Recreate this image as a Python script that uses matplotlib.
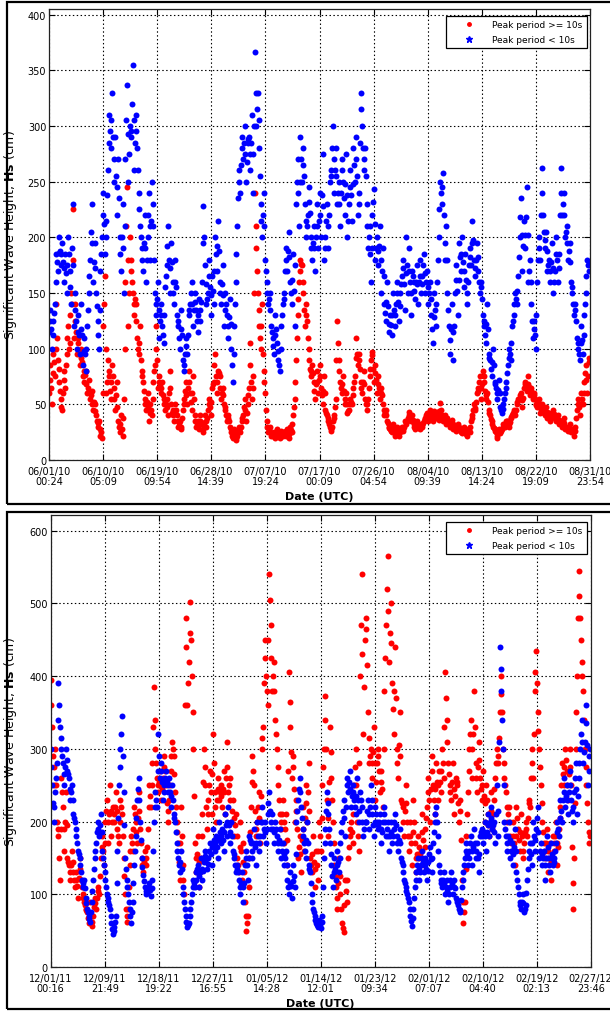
import datetime
import numpy as np
import matplotlib
matplotlib.use('Agg')
import matplotlib.pyplot as plt
import matplotlib.dates as mdates
from matplotlib.lines import Line2D
from matplotlib.patches import Rectangle

plt.rcParams['font.family'] = ['DejaVu Sans']

# ---- summer 2010, one row per day, 8 readings per day (every 3 h) ----
top_start = datetime.datetime(2010, 6, 1, 0, 24)
top_end = datetime.datetime(2010, 8, 31, 23, 54)

top_red = [
    [60, 72, 85, 65, 50, 78, 95, 88], [75, 100, 140, 110, 90, 82, 70, 62],
    [55, 48, 45, 60, 80, 72, 65, 85], [95, 110, 120, 100, 105, 130, 150, 140],
    [225, 180, 110, 125, 140, 115, 95, 105], [110, 95, 85, 92, 100, 88, 75, 80],
    [70, 76, 80, 68, 60, 65, 72, 62], [55, 58, 62, 50, 45, 52, 50, 44],
    [40, 35, 30, 33, 35, 28, 22, 25], [20, 60, 120, 140, 165, 100, 60, 70],
    [90, 80, 75, 62, 55, 70, 85, 75], [65, 55, 45, 58, 70, 48, 35, 30],
    [25, 32, 40, 28, 22, 38, 55, 100], [160, 210, 245, 180, 120, 150, 200, 170],
    [180, 160, 150, 140, 130, 145, 140, 125], [110, 100, 95, 105, 120, 90, 80, 75],
    [70, 62, 55, 50, 45, 52, 60, 48], [35, 42, 50, 45, 40, 55, 70, 80],
    [85, 100, 120, 90, 65, 70, 75, 68], [60, 65, 70, 58, 50, 55, 45, 50],
    [55, 48, 40, 60, 80, 65, 50, 42], [45, 40, 35, 42, 50, 45, 40, 35],
    [30, 33, 35, 30, 28, 38, 45, 50], [55, 62, 70, 58, 50, 65, 80, 70],
    [60, 52, 45, 60, 75, 55, 40, 35], [30, 33, 35, 30, 28, 35, 40, 34],
    [32, 28, 25, 33, 40, 35, 30, 38], [45, 50, 55, 48, 40, 52, 65, 68],
    [70, 85, 95, 75, 60, 70, 80, 78], [75, 65, 55, 60, 65, 58, 50, 48],
    [45, 40, 35, 38, 40, 35, 30, 28], [25, 22, 20, 24, 28, 22, 18, 20],
    [22, 26, 30, 27, 25, 30, 35, 38], [40, 48, 55, 45, 35, 42, 50, 58],
    [65, 85, 105, 70, 55, 65, 75, 150], [240, 210, 190, 170, 150, 135, 120, 110],
    [100, 120, 140, 95, 80, 70, 60, 45], [35, 30, 25, 28, 30, 25, 22, 24],
    [22, 24, 25, 21, 20, 24, 28, 25], [24, 22, 20, 23, 26, 24, 22, 25],
    [25, 23, 22, 26, 28, 24, 20, 23], [30, 27, 25, 32, 40, 48, 55, 70],
    [90, 110, 130, 145, 160, 170, 180, 176], [175, 160, 150, 135, 120, 130, 140, 125],
    [110, 100, 90, 82, 75, 80, 85, 78], [70, 62, 55, 68, 80, 70, 60, 72],
    [85, 75, 65, 58, 50, 62, 75, 60], [45, 42, 40, 38, 35, 32, 30, 28],
    [26, 30, 35, 38, 40, 48, 55, 90], [125, 105, 90, 80, 70, 65, 60, 68],
    [75, 62, 50, 55, 60, 50, 42, 44], [45, 50, 55, 52, 50, 58, 65, 70],
    [75, 92, 110, 95, 85, 90, 95, 82], [70, 65, 60, 70, 80, 68, 55, 50],
    [45, 50, 55, 65, 75, 82, 90, 94], [97, 82, 70, 78, 85, 72, 60, 68],
    [75, 65, 55, 60, 65, 58, 50, 45], [40, 42, 45, 40, 35, 33, 30, 29],
    [28, 26, 25, 29, 32, 27, 22, 24], [25, 28, 30, 26, 22, 25, 28, 29],
    [30, 28, 26, 30, 35, 34, 32, 35], [38, 40, 43, 39, 35, 37, 40, 36],
    [32, 30, 28, 31, 35, 32, 30, 29], [28, 30, 32, 31, 30, 33, 35, 37],
    [38, 40, 42, 38, 35, 40, 45, 42], [40, 37, 35, 40, 44, 41, 38, 40],
    [42, 39, 36, 44, 51, 45, 40, 37], [35, 38, 40, 36, 32, 35, 38, 35],
    [33, 31, 30, 33, 36, 32, 28, 29], [30, 28, 26, 29, 32, 30, 28, 27],
    [27, 25, 24, 27, 30, 27, 25, 23], [22, 25, 28, 26, 25, 30, 35, 38],
    [40, 45, 50, 47, 45, 52, 60, 62], [65, 70, 75, 65, 55, 68, 80, 75],
    [70, 62, 55, 58, 60, 52, 45, 42], [40, 37, 35, 32, 30, 29, 28, 26],
    [25, 22, 20, 24, 28, 26, 24, 26], [28, 30, 32, 31, 30, 33, 35, 35],
    [35, 32, 30, 34, 38, 39, 40, 42], [45, 42, 40, 45, 50, 52, 55, 55],
    [55, 58, 60, 54, 48, 56, 65, 68], [70, 66, 62, 68, 75, 66, 58, 62],
    [65, 60, 55, 58, 60, 55, 50, 49], [48, 52, 55, 48, 42, 46, 50, 47],
    [45, 42, 40, 44, 48, 43, 38, 40], [42, 38, 35, 38, 40, 42, 45, 41],
    [38, 36, 35, 38, 40, 36, 32, 34], [35, 32, 30, 34, 38, 33, 28, 29],
    [30, 28, 26, 29, 32, 28, 25, 27], [28, 25, 22, 26, 30, 38, 45, 50],
    [55, 48, 40, 50, 60, 55, 50, 60], [70, 78, 85, 72, 60, 75, 92, 88],
]

top_blue = [
    [115, 125, 135, 118, 100, 112, 125, 132], [140, 160, 185, 178, 170, 186, 200, 188],
    [175, 185, 195, 178, 160, 172, 185, 168], [150, 175, 200, 185, 170, 155, 140, 190],
    [230, 175, 120, 135, 150, 125, 100, 115], [130, 112, 95, 118, 140, 112, 85, 98],
    [110, 95, 80, 100, 120, 135, 150, 165], [180, 205, 230, 195, 160, 178, 195, 172],
    [150, 138, 125, 112, 100, 135, 170, 185], [200, 220, 240, 212, 185, 200, 215, 238],
    [260, 285, 310, 295, 280, 305, 330, 290], [250, 270, 290, 255, 220, 245, 270, 235],
    [200, 185, 170, 200, 230, 190, 150, 210], [270, 305, 337, 293, 250, 275, 300, 295],
    [290, 320, 355, 305, 260, 285, 310, 295], [280, 260, 240, 225, 210, 200, 190, 180],
    [170, 195, 220, 190, 160, 180, 200, 220], [240, 210, 180, 215, 250, 230, 210, 180],
    [150, 140, 130, 145, 160, 135, 110, 125], [140, 130, 120, 112, 105, 130, 155, 165],
    [175, 192, 210, 180, 150, 172, 195, 178], [160, 150, 140, 160, 180, 155, 130, 125],
    [120, 110, 100, 118, 135, 112, 90, 85], [80, 95, 110, 102, 95, 112, 130, 135],
    [140, 150, 160, 140, 120, 135, 150, 142], [135, 125, 115, 130, 145, 135, 125, 142],
    [160, 195, 228, 200, 175, 158, 140, 145], [150, 165, 180, 155, 130, 148, 165, 152],
    [140, 170, 200, 185, 170, 192, 215, 188], [160, 150, 140, 158, 175, 148, 120, 135],
    [150, 140, 130, 120, 110, 128, 145, 122], [100, 85, 70, 95, 120, 140, 160, 185],
    [210, 235, 260, 250, 240, 265, 290, 280], [270, 285, 300, 275, 250, 268, 285, 288],
    [290, 275, 260, 285, 310, 275, 240, 300], [366, 330, 300, 315, 330, 305, 280, 255],
    [230, 215, 200, 220, 240, 210, 180, 170], [160, 150, 140, 145, 150, 135, 120, 115],
    [110, 102, 95, 112, 130, 118, 105, 98], [90, 85, 80, 100, 120, 130, 140, 145],
    [150, 170, 190, 180, 170, 188, 205, 182], [160, 150, 140, 162, 185, 152, 120, 175],
    [230, 250, 270, 240, 210, 250, 290, 270], [250, 265, 280, 255, 230, 215, 200, 210],
    [220, 232, 245, 222, 200, 190, 180, 195], [210, 190, 170, 200, 230, 210, 190, 215],
    [240, 220, 200, 238, 275, 228, 180, 190], [200, 215, 230, 210, 190, 220, 250, 255],
    [260, 280, 300, 270, 240, 260, 280, 255], [230, 240, 250, 230, 210, 240, 270, 260],
    [250, 235, 220, 248, 275, 238, 200, 215], [230, 245, 260, 238, 215, 248, 280, 265],
    [250, 270, 290, 255, 220, 230, 240, 285], [330, 315, 300, 280, 260, 270, 280, 255],
    [230, 210, 190, 200, 210, 185, 160, 190], [220, 232, 243, 212, 180, 190, 200, 188],
    [175, 192, 210, 180, 150, 170, 190, 165], [140, 132, 125, 142, 160, 138, 115, 122],
    [130, 121, 112, 130, 150, 135, 120, 130], [140, 150, 160, 142, 125, 138, 150, 158],
    [165, 172, 180, 158, 135, 168, 200, 175], [150, 170, 190, 160, 130, 150, 170, 165],
    [160, 152, 145, 160, 175, 158, 140, 160], [180, 165, 150, 158, 165, 175, 185, 168],
    [150, 160, 170, 155, 140, 150, 160, 145], [130, 118, 105, 128, 150, 135, 120, 140],
    [160, 180, 200, 225, 250, 240, 230, 245], [258, 220, 180, 195, 210, 180, 150, 135],
    [120, 108, 95, 118, 140, 115, 90, 120], [150, 162, 175, 152, 130, 162, 195, 182],
    [170, 185, 200, 178, 155, 170, 185, 162], [140, 150, 160, 175, 190, 182, 175, 195],
    [215, 198, 180, 172, 165, 180, 195, 182], [170, 160, 150, 155, 160, 145, 130, 125],
    [120, 112, 105, 122, 140, 118, 95, 92], [90, 82, 75, 88, 100, 85, 70, 68],
    [65, 60, 55, 63, 72, 60, 48, 45], [42, 46, 50, 55, 60, 65, 70, 78],
    [85, 92, 100, 95, 90, 105, 120, 125], [130, 140, 150, 145, 140, 152, 165, 182],
    [200, 218, 235, 202, 170, 192, 215, 202], [190, 218, 245, 202, 160, 170, 180, 160],
    [140, 125, 110, 118, 125, 112, 100, 130], [160, 180, 200, 190, 180, 220, 262, 240],
    [220, 205, 190, 198, 205, 188, 170, 175], [180, 170, 160, 178, 195, 172, 150, 160],
    [170, 185, 200, 180, 160, 172, 185, 220], [262, 240, 220, 230, 240, 220, 200, 205],
    [210, 195, 180, 188, 195, 178, 160, 155], [150, 140, 130, 135, 140, 125, 110, 105],
    [100, 95, 90, 105, 120, 108, 95, 112], [130, 140, 150, 165, 180, 175, 170, 178],
]

# ---- winter 2011/12 ----
bot_start = datetime.datetime(2011, 12, 1, 0, 16)
bot_end = datetime.datetime(2012, 2, 27, 23, 46)

bot_red = [
    [395, 360, 330, 290, 250, 275, 300, 250], [200, 190, 180, 150, 120, 190, 260, 240],
    [220, 190, 160, 200, 240, 195, 150, 145], [140, 130, 120, 140, 160, 145, 130, 120],
    [110, 120, 130, 112, 95, 122, 150, 135], [120, 110, 100, 95, 90, 85, 80, 78],
    [75, 68, 60, 75, 90, 72, 57, 62], [70, 82, 95, 88, 80, 95, 110, 105],
    [100, 125, 150, 165, 180, 160, 140, 170], [200, 215, 230, 200, 170, 210, 250, 215],
    [180, 200, 220, 210, 200, 220, 240, 215], [190, 180, 170, 200, 230, 220, 210, 180],
    [150, 125, 100, 80, 62, 70, 80, 110], [140, 160, 180, 170, 160, 190, 220, 210],
    [200, 185, 170, 205, 240, 215, 190, 170], [150, 140, 130, 145, 160, 150, 140, 165],
    [190, 220, 250, 235, 220, 250, 280, 330], [385, 340, 300, 280, 260, 250, 240, 255],
    [270, 250, 230, 245, 260, 275, 290, 270], [250, 225, 200, 215, 230, 250, 270, 290],
    [310, 300, 290, 265, 240, 220, 200, 185], [170, 145, 120, 170, 220, 180, 140, 120],
    [100, 360, 480, 440, 360, 390, 420, 460], [502, 450, 400, 350, 300, 235, 170, 150],
    [130, 155, 180, 145, 110, 130, 150, 180], [210, 255, 300, 275, 250, 220, 190, 210],
    [230, 250, 270, 240, 210, 265, 320, 280], [240, 220, 200, 230, 260, 245, 230, 240],
    [250, 235, 220, 245, 270, 240, 210, 260], [310, 275, 240, 250, 260, 230, 200, 215],
    [230, 205, 180, 195, 210, 180, 150, 140], [130, 165, 200, 160, 120, 145, 170, 130],
    [90, 70, 50, 60, 70, 110, 150, 185], [220, 255, 290, 270, 250, 215, 180, 190],
    [200, 220, 240, 205, 170, 235, 300, 315], [330, 390, 450, 425, 400, 380, 360, 450],
    [540, 505, 470, 425, 380, 400, 420, 380], [340, 320, 300, 275, 250, 230, 210, 200],
    [190, 210, 230, 200, 170, 190, 210, 175], [140, 270, 405, 365, 330, 295, 260, 275],
    [290, 245, 200, 215, 230, 190, 150, 165], [180, 155, 130, 175, 220, 190, 160, 205],
    [250, 225, 200, 240, 280, 215, 150, 140], [130, 155, 180, 145, 110, 135, 160, 140],
    [120, 160, 200, 180, 160, 205, 250, 275], [300, 340, 373, 300, 230, 205, 180, 255],
    [330, 295, 260, 230, 200, 170, 140, 125], [110, 95, 80, 115, 150, 125, 100, 80],
    [60, 54, 48, 85, 120, 105, 90, 120], [150, 165, 180, 190, 200, 185, 170, 210],
    [250, 275, 300, 250, 200, 180, 160, 280], [400, 470, 540, 430, 320, 385, 450, 465],
    [480, 415, 350, 315, 280, 290, 300, 280], [260, 295, 330, 280, 230, 255, 280, 290],
    [300, 270, 240, 255, 270, 245, 220, 300], [380, 425, 470, 520, 565, 490, 420, 460],
    [500, 445, 390, 355, 320, 380, 440, 370], [300, 280, 260, 305, 350, 290, 230, 225],
    [220, 200, 180, 215, 250, 225, 200, 180], [160, 180, 200, 170, 140, 185, 230, 200],
    [170, 150, 130, 155, 180, 165, 150, 155], [160, 185, 210, 175, 140, 165, 190, 205],
    [220, 240, 260, 230, 200, 245, 290, 270], [250, 230, 210, 245, 280, 255, 230, 250],
    [270, 255, 240, 270, 300, 280, 260, 330], [405, 370, 340, 310, 280, 265, 250, 240],
    [230, 255, 280, 245, 210, 235, 260, 255], [250, 225, 200, 215, 230, 175, 120, 90],
    [60, 75, 90, 135, 180, 210, 240, 270], [300, 320, 340, 300, 260, 320, 380, 330],
    [280, 260, 240, 275, 310, 285, 260, 245], [230, 250, 270, 235, 200, 225, 250, 230],
    [210, 195, 180, 210, 240, 215, 190, 210], [230, 245, 260, 280, 300, 290, 280, 315],
    [350, 375, 400, 350, 300, 280, 260, 250], [240, 220, 200, 210, 220, 200, 180, 170],
    [160, 180, 200, 170, 140, 180, 220, 205], [190, 175, 160, 185, 210, 180, 150, 160],
    [170, 185, 200, 190, 180, 205, 230, 225], [220, 260, 300, 280, 260, 320, 380, 405],
    [435, 390, 350, 325, 300, 275, 250, 225], [200, 185, 170, 160, 150, 170, 190, 160],
    [130, 150, 170, 145, 120, 150, 180, 170], [160, 180, 200, 170, 140, 165, 190, 205],
    [220, 250, 280, 265, 250, 275, 300, 285], [270, 250, 230, 265, 300, 275, 250, 165],
    [80, 115, 150, 225, 300, 350, 400, 480], [545, 510, 480, 450, 420, 400, 380, 340],
    [300, 275, 250, 225, 200, 185, 170, 180],
]

bot_blue = [
    [300, 275, 250, 225, 200, 220, 240, 260], [280, 340, 390, 360, 330, 315, 300, 290],
    [280, 265, 250, 275, 300, 285, 270, 265], [260, 245, 230, 240, 250, 230, 210, 205],
    [200, 190, 180, 170, 160, 155, 150, 140], [130, 120, 110, 115, 120, 108, 95, 88],
    [80, 75, 70, 66, 62, 76, 90, 105], [120, 135, 150, 160, 170, 185, 200, 190],
    [180, 195, 210, 185, 160, 150, 140, 130], [120, 110, 100, 95, 90, 85, 80, 70],
    [60, 52, 45, 50, 55, 62, 70, 115], [160, 205, 250, 275, 300, 320, 345, 290],
    [240, 195, 150, 135, 120, 110, 100, 90], [80, 70, 60, 75, 90, 115, 140, 160],
    [180, 205, 230, 245, 260, 230, 200, 175], [150, 138, 126, 118, 110, 105, 100, 102],
    [105, 110, 115, 106, 98, 109, 120, 160], [200, 220, 240, 230, 220, 270, 320, 290],
    [260, 270, 280, 255, 230, 240, 250, 260], [270, 255, 240, 250, 260, 240, 220, 235],
    [250, 230, 210, 205, 200, 185, 170, 160], [150, 140, 130, 145, 160, 135, 110, 100],
    [90, 80, 70, 62, 55, 58, 60, 70], [80, 90, 100, 110, 120, 115, 110, 120],
    [130, 135, 140, 125, 110, 130, 150, 135], [120, 132, 145, 152, 160, 148, 135, 142],
    [150, 160, 170, 155, 140, 165, 190, 175], [160, 170, 180, 165, 150, 175, 200, 185],
    [170, 180, 190, 175, 160, 185, 210, 195], [180, 200, 220, 195, 170, 185, 200, 180],
    [160, 155, 150, 140, 130, 135, 140, 130], [120, 110, 100, 115, 130, 110, 90, 115],
    [140, 150, 160, 140, 120, 150, 180, 175], [170, 160, 150, 170, 190, 165, 140, 170],
    [200, 180, 160, 170, 180, 200, 220, 200], [180, 190, 200, 185, 170, 190, 210, 225],
    [240, 215, 190, 200, 210, 190, 170, 185], [200, 190, 180, 170, 160, 175, 190, 170],
    [150, 160, 170, 155, 140, 150, 160, 140], [120, 110, 100, 115, 130, 112, 95, 118],
    [140, 125, 110, 155, 200, 215, 230, 245], [260, 240, 220, 205, 190, 180, 170, 160],
    [150, 175, 200, 170, 140, 135, 130, 115], [100, 90, 80, 75, 70, 65, 60, 58],
    [55, 60, 65, 59, 53, 62, 70, 110], [150, 170, 190, 215, 240, 225, 210, 190],
    [170, 155, 140, 125, 110, 130, 150, 135], [120, 140, 160, 145, 130, 150, 170, 185],
    [200, 215, 230, 205, 180, 220, 260, 250], [240, 255, 270, 245, 220, 235, 250, 240],
    [230, 220, 210, 235, 260, 230, 200, 215], [240, 230, 220, 200, 180, 190, 200, 200],
    [200, 215, 230, 210, 190, 220, 250, 230], [210, 195, 180, 200, 220, 210, 200, 195],
    [190, 200, 210, 190, 170, 185, 200, 210], [220, 200, 180, 190, 200, 180, 160, 180],
    [200, 185, 170, 180, 190, 200, 210, 195], [180, 170, 160, 175, 190, 170, 150, 145],
    [140, 130, 120, 115, 110, 105, 100, 95], [90, 80, 70, 63, 57, 68, 80, 95],
    [110, 120, 130, 140, 150, 135, 120, 130], [140, 150, 160, 145, 130, 140, 150, 135],
    [120, 132, 145, 155, 165, 148, 130, 150], [170, 185, 200, 210, 220, 200, 180, 160],
    [140, 130, 120, 115, 110, 120, 130, 115], [100, 110, 120, 105, 90, 100, 110, 120],
    [130, 115, 100, 110, 120, 108, 95, 92], [90, 85, 80, 78, 75, 92, 110, 120],
    [130, 140, 150, 160, 170, 155, 140, 150], [160, 170, 180, 160, 140, 165, 190, 170],
    [150, 160, 170, 150, 130, 155, 180, 185], [190, 180, 170, 185, 200, 180, 160, 185],
    [210, 195, 180, 200, 220, 205, 190, 195], [200, 185, 170, 210, 250, 215, 180, 310],
    [440, 410, 380, 340, 300, 250, 200, 190], [180, 170, 160, 180, 200, 175, 150, 160],
    [170, 155, 140, 165, 190, 160, 130, 120], [110, 100, 90, 85, 80, 90, 100, 88],
    [75, 80, 85, 102, 120, 135, 150, 160], [170, 155, 140, 170, 200, 180, 160, 175],
    [190, 205, 220, 185, 150, 160, 170, 155], [140, 150, 160, 140, 120, 150, 180, 165],
    [150, 140, 130, 150, 170, 155, 140, 145], [150, 160, 170, 185, 200, 190, 180, 205],
    [230, 215, 200, 230, 260, 240, 220, 235], [250, 230, 210, 240, 270, 250, 230, 215],
    [200, 220, 240, 260, 280, 245, 210, 235], [260, 280, 300, 320, 340, 310, 280, 295],
    [310, 335, 360, 305, 250, 270, 290, 300],
]

legend_labels = ['Peak period >= 10s', 'Peak period < 10s']


def draw_panel(ax, start, end, red, blue, ymax, yticks, leg_anchor):
    t0 = mdates.date2num(start)
    t1 = mdates.date2num(end)
    for vals, col in ((red, 'red'), (blue, 'blue')):
        vals = np.array(vals, dtype=float)
        per_day = vals.shape[1]
        # sample times: day index + fraction of the day
        t = t0 + np.arange(len(vals))[:, None] + np.arange(per_day)[None, :] / per_day
        ax.plot(t.ravel(), vals.ravel(), ls='none', marker='o', ms=4.3,
                mew=0, color=col)

    ax.set_xlim(t0, t1)
    ax.set_ylim(0, ymax)
    ticks = np.linspace(t0, t1, 11)
    ax.set_xticks(ticks)
    ax.set_xticklabels([mdates.num2date(v + 0.5 / 1440).strftime('%m/%d/%y\n%H:%M')
                        for v in ticks], linespacing=1.0)
    ax.set_yticks(yticks)
    ax.tick_params(direction='in', top=True, right=True, length=4, width=0.8,
                   labelsize=7, colors='black')
    ax.tick_params(axis='x', pad=4)
    ax.tick_params(axis='y', pad=2)
    ax.grid(True, ls=(0, (1.3, 2.2)), lw=0.8, color='black')
    ax.set_axisbelow(True)
    for sp in ax.spines.values():
        sp.set_linewidth(0.9)
        sp.set_color('#222222')

    ax.set_xlabel('Date (UTC)', fontsize=8, fontweight='bold', labelpad=4)
    ax.set_ylabel(r'Significant Wave Height, $\mathbf{Hs}$ (cm)', fontsize=9)

    handles = [Line2D([], [], ls='none', marker='.', ms=5, color='red'),
               Line2D([], [], ls='none', marker='*', ms=4.5, color='blue')]
    leg = ax.legend(handles, legend_labels, loc='upper right', bbox_to_anchor=leg_anchor,
                    borderaxespad=0, fontsize=6.5, handlelength=4, handletextpad=0.6,
                    borderpad=0.5, labelspacing=0.6, fancybox=False, framealpha=1,
                    edgecolor='black')
    leg.get_frame().set_linewidth(0.9)


fig = plt.figure(figsize=(6.1, 10.12), dpi=100)
W, H = 610.0, 1012.0

ax1 = fig.add_axes([49 / W, 1 - 461 / H, 541 / W, 451 / H])
draw_panel(ax1, top_start, top_end, top_red, top_blue, 405, np.arange(0, 401, 50),
           (0.9945, 0.985))
ax1.yaxis.set_label_coords(-0.055, 0.5)

ax2 = fig.add_axes([50.7 / W, 1 - 968 / H, 540 / W, 452.3 / H])
draw_panel(ax2, bot_start, bot_end, bot_red, bot_blue, 622, np.arange(0, 601, 100),
           (0.993, 0.984))
ax2.yaxis.set_label_coords(-0.058, 0.5)

# outer frames around each panel
fig.add_artist(Rectangle((7 / W, 1 - 505 / H), 610 / W, 502 / H, transform=fig.transFigure,
                         fill=False, lw=1.6, ec='black'))
fig.add_artist(Rectangle((7 / W, 1 - 1010 / H), 610 / W, 497 / H, transform=fig.transFigure,
                         fill=False, lw=1.6, ec='black'))

fig.savefig('out.png', dpi=100)
